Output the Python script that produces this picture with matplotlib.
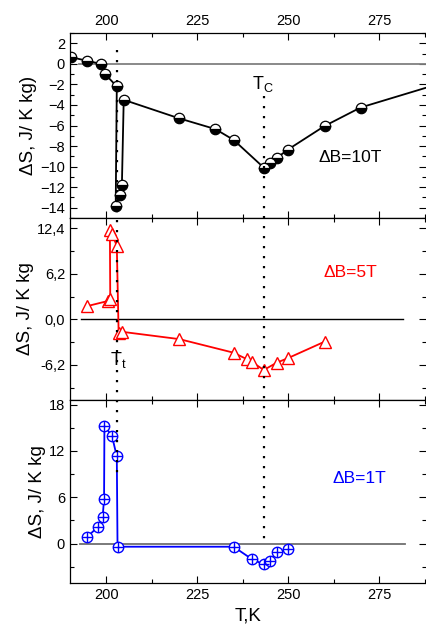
import matplotlib
matplotlib.use("Agg")
import matplotlib.pyplot as plt
from matplotlib.lines import Line2D
from matplotlib.ticker import FixedLocator, MultipleLocator
from matplotlib.transforms import blended_transform_factory

plt.rcParams['font.family'] = ['Liberation Sans', 'DejaVu Sans']
plt.rcParams['mathtext.fontset'] = 'custom'
plt.rcParams['mathtext.rm'] = 'Liberation Sans'
plt.rcParams['mathtext.it'] = 'Liberation Sans:italic'

# dB = 10 T (black, half filled circles)
t_10 = [190.3, 194.7, 198.5, 199.7, 202.9, 202.6, 203.7, 204.3, 204.8, 220.0,
        230.0, 235.0, 243.3, 244.9, 246.9, 249.9, 260.0, 269.9, 290.0]
ds_10 = [0.65, 0.3, 0.0, -1.0, -2.2, -13.8, -12.8, -11.8, -3.5, -5.3,
         -6.35, -7.4, -10.1, -9.65, -9.15, -8.35, -6.05, -4.25, -2.1]

# dB = 5 T (red, open triangles)
t_5 = [194.8, 200.5, 201.1, 201.0, 201.6, 202.9, 203.4, 204.3, 220.1,
       235.0, 238.7, 240.0, 243.3, 246.9, 249.9, 260.0]
ds_5 = [1.8, 2.5, 2.8, 12.2, 11.6, 10.0, -1.8, -1.7, -2.7,
        -4.55, -5.45, -5.8, -6.9, -5.9, -5.3, -3.05]

# dB = 1 T (blue, circled plus)
t_1 = [194.8, 197.7, 199.0, 199.4, 199.5, 201.6, 202.9, 203.1,
       235.0, 240.0, 243.3, 244.9, 246.9, 249.9]
ds_1 = [0.9, 2.15, 3.4, 5.8, 15.3, 13.9, 11.3, -0.4,
        -0.4, -2.0, -2.7, -2.25, -1.1, -0.75]

T_t = 203.0
T_c = 243.3

fig = plt.figure(figsize=(4.26, 6.35), dpi=100)
left, width = 0.164, 0.837
ax1 = fig.add_axes([left, 0.6567, width, 0.2913])
ax2 = fig.add_axes([left, 0.370, width, 0.2867])
ax3 = fig.add_axes([left, 0.0819, width, 0.2881])

for ax in (ax1, ax2, ax3):
    ax.set_xlim(190, 288)
    ax.xaxis.set_major_locator(MultipleLocator(25))
    ax.xaxis.set_minor_locator(MultipleLocator(12.5))
    ax.tick_params(which='both', direction='in', top=True, right=True,
                   labelsize=10.5, width=0.8)
    ax.tick_params(which='major', length=5)
    ax.tick_params(which='minor', length=3)
    for s in ax.spines.values():
        s.set_linewidth(0.9)
    ax.spines['right'].set_visible(False)

# top panel
ax1.axhline(0, xmin=(192.4 - 190) / 98, xmax=1, color='#808080', lw=1.3)
ax1.plot(t_10, ds_10, '-', color='black', lw=1.3, marker='o', ms=7.5,
         fillstyle='bottom', markerfacecolor='black', markerfacecoloralt='white',
         markeredgecolor='black', markeredgewidth=0.9)
ax1.set_ylim(-15, 3)
ax1.yaxis.set_major_locator(MultipleLocator(2))
ax1.yaxis.set_minor_locator(MultipleLocator(1))
ax1.tick_params(axis='x', labeltop=True, labelbottom=False)
ax1.set_ylabel('ΔS, J/ K kg)', fontsize=13.5, labelpad=2)
ax1.text(240.0, -2.0, r'$\mathregular{T_C}$', fontsize=13, va='center', ha='left')
ax1.text(258.4, -9.1, 'ΔB=10T', fontsize=12.5, va='center', ha='left')

# middle panel
ax2.axhline(0, xmin=(193 - 190) / 98, xmax=(281.5 - 190) / 98, color='black', lw=1.0)
ax2.plot(t_5, ds_5, '-', color='red', lw=1.3, marker='^', ms=8.5,
         markerfacecolor='white', markeredgecolor='red', markeredgewidth=1.0)
ax2.set_ylim(-11, 13.8)
ax2.yaxis.set_major_locator(FixedLocator([-6.2, 0.0, 6.2, 12.4]))
ax2.yaxis.set_minor_locator(FixedLocator([-9.3, -3.1, 3.1, 9.3]))
ax2.set_yticklabels(['-6,2', '0,0', '6,2', '12,4'])
ax2.tick_params(axis='x', labelbottom=False)
ax2.set_ylabel('ΔS, J/ K kg', fontsize=13.5, labelpad=2)
ax2.text(201.1, -5.5, r'$\mathregular{T_t}$', fontsize=13, va='center', ha='left')
ax2.text(259.8, 6.4, 'ΔB=5T', fontsize=12.5, va='center', ha='left', color='red')

# bottom panel
ax3.axhline(0, xmin=(192.7 - 190) / 98, xmax=(282 - 190) / 98, color='#707070', lw=1.3)
ax3.plot(t_1, ds_1, '-', color='blue', lw=1.3, marker='o', ms=7.5,
         markerfacecolor='white', markeredgecolor='blue', markeredgewidth=1.0)
ax3.plot(t_1, ds_1, linestyle='none', marker='+', ms=7.5, color='blue', markeredgewidth=1.0)
ax3.set_ylim(-5.1, 18.6)
ax3.yaxis.set_major_locator(MultipleLocator(6))
ax3.yaxis.set_minor_locator(MultipleLocator(3))
ax3.set_ylabel('ΔS, J/ K kg', fontsize=13.5, labelpad=2)
ax3.set_xlabel('T,K', fontsize=13.5, labelpad=4)
ax3.text(262.3, 8.4, 'ΔB=1T', fontsize=12.5, va='center', ha='left', color='blue')

# dotted transition lines spanning the panels
tr = blended_transform_factory(ax1.transData, fig.transFigure)
fig.add_artist(Line2D([T_t, T_t], [1 - 50 / 635, 1 - 475 / 635], transform=tr,
                      color='black', lw=1.6, linestyle=(0, (1, 3.5)), zorder=1))
fig.add_artist(Line2D([T_c, T_c], [1 - 96 / 635, 1 - 545 / 635], transform=tr,
                      color='black', lw=1.6, linestyle=(0, (1, 3.5)), zorder=1))

fig.align_ylabels([ax1, ax2, ax3])
fig.savefig('out.png', dpi=100)
